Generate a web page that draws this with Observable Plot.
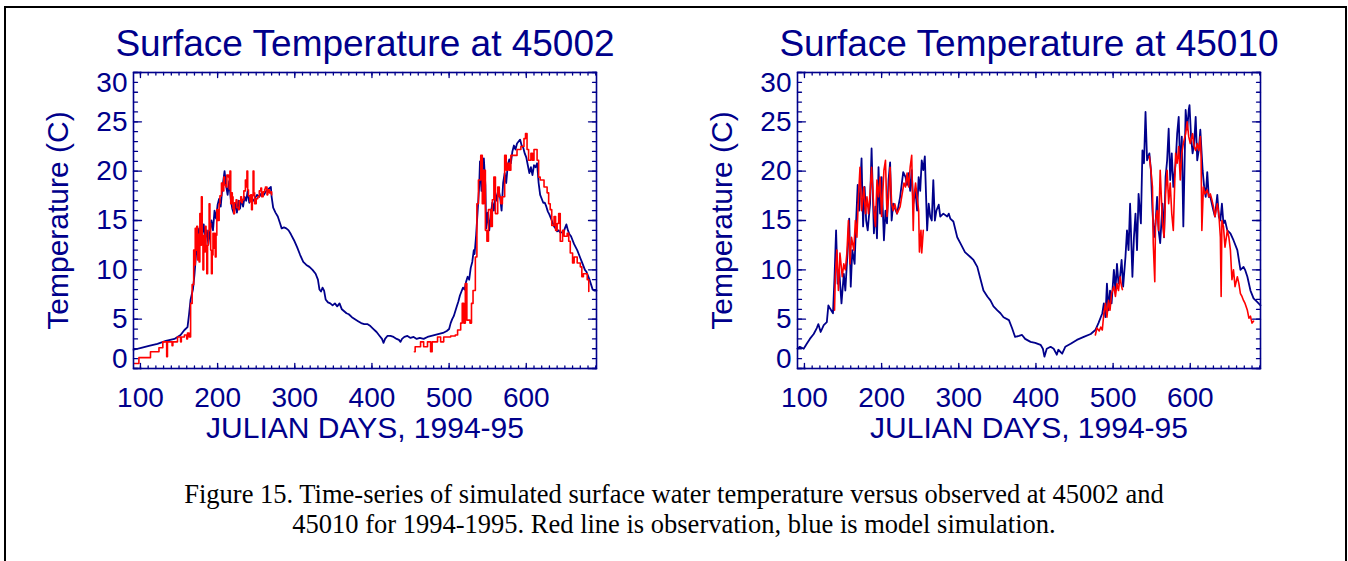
<!DOCTYPE html>
<html>
<head>
<meta charset="utf-8">
<script src="https://cdn.jsdelivr.net/npm/d3@7"></script>
<script src="https://cdn.jsdelivr.net/npm/@observablehq/plot@0.6"></script>
<style>
  html, body { margin: 0; padding: 0; background: #fff; }
  #page { position: relative; width: 1348px; height: 561px; overflow: hidden; background: #fff; }
  #border { position: absolute; left: 4px; top: 6px; width: 1343px; height: 600px; border: 2px solid #000; box-sizing: border-box; }
  .panel { position: absolute; top: 0; }
  #caption { position: absolute; left: 0; top: 479px; width: 1348px; text-align: center;
             font-family: "Liberation Serif", "Times New Roman", serif; font-size: 26.5px; line-height: 30px; color: #000; }
</style>
</head>
<body>
<div id="page">
  <div id="border"></div>
  <div id="left" class="panel" style="left:0px"></div>
  <div id="right" class="panel" style="left:665px"></div>
  <div id="caption">Figure 15. Time-series of simulated surface water temperature versus observed at 45002 and<br>45010 for 1994-1995. Red line is observation, blue is model simulation.</div>
</div>
<script>
// Axis ranges and tick values (Julian days 1994-95, temperature in C)
const dayDomain = [91, 691];
const tempDomain = [0, 30];
const dayMajor = [100, 200, 300, 400, 500, 600];
const dayMinor = d3.range(100, 691, 10);
const tempMajor = [0, 5, 10, 15, 20, 25, 30];
const tempMinor = d3.range(0, 31, 1);

// Station 45002 — model simulation
const model45002Day = [91,101,111,122,133,144,152,157,161,163,165,168,170,172,174,176,178,180,182,184,186,188,190,192,194,196,198,200,202,204,206,208,209,211,213,215,217,219,221,223,225,227,229,231,233,235,237,239,241,243,245,248,251,254,257,260,263,266,269,270,272,275,278,281,283,286,289,292,295,299,303,307,311,315,319,323,327,330,332,334,336,338,340,343,346,349,352,355,358,361,364,367,370,374,378,382,386,390,394,398,402,406,410,413,415,417,420,424,428,432,435,437,439,442,446,450,454,458,462,467,472,477,482,487,492,497,500,502,504,506,508,510,512,514,516,518,520,522,524,526,528,530,532,533,535,537,539,540,542,543,545,547,548,550,552,554,556,558,560,562,564,566,568,570,572,574,576,578,580,582,584,586,588,590,592,594,596,598,600,602,604,606,608,610,612,614,616,618,620,622,624,626,628,630,632,634,636,638,640,642,644,646,648,650,652,654,656,658,660,662,664,666,668,670,672,674,676,678,680,682,684,686,688,691];
const model45002Temp = [1.9,2.1,2.3,2.5,2.8,3.0,3.4,3.9,4.2,5.5,7.0,8.0,9.5,11.5,13.0,14.2,12.8,13.5,14.6,13.2,14.0,12.6,13.8,15.0,14.0,16.0,15.2,16.6,17.2,16.4,18.2,19.4,20.0,18.5,17.6,19.0,17.2,16.2,15.7,16.8,15.8,17.0,16.2,17.2,16.4,17.4,17.0,18.0,16.8,17.4,16.9,17.2,17.6,17.4,17.8,17.6,18.0,18.2,18.4,17.4,16.3,15.8,15.4,14.7,14.2,14.3,14.2,14.0,13.6,13.0,12.3,11.5,10.8,10.5,10.3,10.0,9.6,9.0,8.0,7.8,8.2,7.9,7.0,6.7,6.6,6.4,6.6,6.3,6.6,6.0,5.8,5.6,5.5,5.2,5.0,4.8,4.6,4.5,4.5,4.3,4.0,3.7,3.3,3.0,2.6,3.0,3.3,3.3,3.2,3.0,2.9,2.7,3.0,3.2,3.3,3.1,3.2,3.0,3.1,3.0,3.2,3.3,3.4,3.5,3.6,3.8,4.0,4.6,5.0,5.3,5.8,6.3,6.8,7.4,7.8,8.2,8.0,8.8,9.3,9.0,10.2,10.8,12.0,11.6,13.5,16.0,18.5,21.0,18.0,20.0,21.3,18.6,14.2,15.8,14.0,15.6,16.8,16.0,17.8,17.0,18.2,17.4,16.0,18.8,19.8,18.8,20.6,21.2,20.8,22.0,22.6,22.2,22.8,23.0,23.2,22.6,22.4,21.8,21.4,20.6,19.8,20.4,19.6,20.6,20.4,20.8,18.8,17.6,17.2,16.8,16.8,16.4,15.9,15.6,15.2,14.8,14.4,14.2,13.9,14.0,13.8,13.8,13.7,14.2,14.6,14.0,13.6,13.4,13.0,12.6,12.3,12.0,11.6,11.2,10.8,10.4,10.0,9.8,9.4,9.0,8.5,8.0,7.9,7.9];

// Station 45002 — buoy observation (null marks a data gap)
const obs45002Day = [92,98,113,124,129,134,135,141,142,148,152,153,157,160,161,163,165,167,169,170,171,172,173,174,175,176,177,178,179,180,181,182,183,184,185,186,187,188,189,190,191,192,193,194,195,196,197,198,199,200,202,203,205,207,208,209,211,212,214,215,216,217,218,219,220,221,222,224,225,227,228,230,231,232,234,236,237,238,239,240,242,243,244,245,246,247,248,250,252,254,256,257,259,261,262,264,265,267,269,270,
  272,
  455,456,463,467,472,476,478,485,489,493,502,508,511,515,517,519,521,523,527,529,531,534,536,538,541,543,545,547,549,551,554,556,558,560,563,565,567,569,572,574,576,578,580,584,588,593,597,599,601,603,606,608,610,614,616,618,623,627,629,631,633,636,638,640,642,644,647,649,653,655,657,660,662,666,670,672,674,679,681];
const obs45002Temp = [0.5,1.1,1.7,2.1,2.7,1.2,2.7,2.3,2.7,3.2,2.7,3.2,3.4,3.0,3.6,3.2,6.6,8.5,12.0,10.5,14.2,12.0,14.4,11.0,13.6,10.8,15.7,12.5,17.4,13.0,10.0,13.5,11.8,14.4,12.0,9.6,12.5,14.0,16.7,14.7,12.0,9.6,11.5,13.7,12.2,13.7,11.3,13.5,16.1,15.0,16.7,17.5,18.8,18.0,19.4,18.6,18.4,19.6,19.4,18.2,20.0,16.7,17.8,17.4,16.2,15.7,16.8,17.1,16.3,16.1,17.0,17.4,16.8,17.1,18.0,19.1,18.4,20.0,18.1,17.5,16.9,17.6,16.1,17.5,20.0,17.8,16.7,17.2,17.4,18.0,18.3,17.4,17.9,18.2,18.4,17.6,18.1,17.8,17.9,17.6,
  null,
  1.7,2.2,2.7,2.2,2.7,1.7,2.7,3.2,2.7,3.2,3.3,3.4,3.9,4.6,6.6,4.6,8.6,4.9,4.6,6.6,7.9,11.3,16.7,19.1,21.6,16.7,20.1,14.0,12.9,16.1,14.4,17.1,19.4,15.7,18.4,17.4,16.7,17.4,21.6,20.1,20.8,20.1,21.6,21.6,22.2,22.5,23.3,23.8,22.2,21.1,21.8,21.1,22.2,21.1,19.4,19.1,18.4,17.8,16.7,16.1,14.5,15.4,14.0,14.7,15.7,12.9,14.0,13.4,13.7,12.9,11.7,10.7,11.3,10.7,10.3,9.3,9.6,9.0,7.8];

// Station 45010 — model simulation
const model45010Day = [91,94,99,103,107,112,116,118,121,125,129,131,133,137,139,141,143,145,148,151,153,156,158,160,162,165,167,169,171,174,176,178,180,182,185,187,190,192,194,196,198,200,203,205,207,209,211,213,215,220,224,228,231,233,235,237,239,241,244,246,248,250,252,254,256,259,261,263,265,267,269,271,274,276,280,285,287,289,293,298,302,308,315,319,324,328,332,337,341,345,350,354,358,365,369,373,378,382,386,393,399,406,409,411,414,419,423,427,429,434,438,445,453,462,471,477,481,486,488,490,492,494,496,498,501,503,505,507,509,511,513,516,518,520,522,525,527,529,531,533,536,538,540,542,544,547,549,551,553,555,557,559,561,564,566,568,570,572,574,576,578,581,583,585,587,589,591,594,596,598,599,601,603,605,607,609,611,613,616,618,620,622,624,626,628,630,632,635,637,639,641,643,645,648,652,656,661,665,669,671,674,678,682,686,691];
const model45010Temp = [2.0,2.2,2.0,2.5,3.0,3.5,4.1,4.5,3.7,4.4,4.7,6.4,6.1,5.6,9.3,14.0,8.6,10.0,6.6,9.6,7.9,12.0,15.2,8.3,12.0,10.6,15.0,18.6,16.0,21.3,14.4,18.4,15.0,14.0,16.7,22.3,13.7,16.4,13.2,20.4,15.7,19.4,13.0,16.0,14.7,19.1,20.9,15.0,16.7,15.7,17.4,19.9,19.4,18.6,19.8,18.0,20.1,16.7,18.0,16.0,19.4,18.0,21.1,20.1,21.5,14.0,16.7,15.4,15.0,19.1,15.0,16.0,16.6,15.4,15.7,15.4,15.7,15.2,14.9,13.3,12.7,11.8,11.3,11.0,10.3,9.1,7.9,7.3,6.9,6.3,5.9,5.6,5.2,4.9,4.1,3.2,3.3,3.4,3.0,2.7,2.6,2.4,2.0,1.2,2.0,2.2,2.0,1.4,1.9,1.5,2.2,2.5,2.9,3.2,3.5,3.9,4.6,5.6,6.6,5.2,8.6,5.9,7.9,6.6,10.0,7.9,10.6,8.6,9.3,11.0,8.3,11.3,14.0,12.0,16.7,9.3,13.3,15.7,12.0,17.7,14.7,22.1,20.8,26.0,21.1,21.8,20.1,16.0,13.3,14.7,17.4,14.0,12.7,16.7,13.3,19.4,21.1,24.3,19.1,21.8,18.4,20.8,23.8,25.5,20.1,23.5,14.4,26.2,24.2,26.2,26.7,23.5,21.8,22.8,25.5,21.1,22.1,24.2,20.1,18.4,17.4,19.9,17.4,17.4,16.7,16.0,15.4,17.6,15.4,15.0,16.7,14.7,15.0,14.0,13.7,13.0,12.0,10.0,10.3,10.0,9.3,7.9,7.1,6.8,6.4];

// Station 45010 — buoy observation (null marks a data gap)
const obs45010Day = [139,140,142,144,146,149,151,153,155,157,159,161,164,166,168,170,172,174,177,179,181,183,185,187,190,192,194,196,198,200,203,205,207,209,211,213,215,217,220,224,226,229,231,233,235,237,239,241,242,244,246,248,249,251,252,254,
  300,
  477,479,482,484,486,488,490,492,494,496,498,501,503,505,507,509,511,512,
  530,
  547,549,551,552,554,555,557,559,561,564,566,568,570,572,574,576,578,581,583,585,587,589,591,594,596,598,600,603,605,607,609,611,613,614,615,617,619,622,624,626,628,630,632,635,637,639,640,641,643,645,648,650,652,654,656,658,661,663,665,667,669,671,674,676,678,680,682];
const obs45010Temp = [5.9,9.3,12.0,7.9,11.7,9.3,10.6,10.0,11.7,15.0,10.6,13.3,12.0,15.0,13.3,17.4,20.4,16.0,18.4,15.7,17.4,15.7,17.7,20.4,16.0,14.4,19.1,17.4,19.4,15.4,20.1,21.1,15.4,17.4,20.4,16.7,16.0,16.7,15.7,16.4,17.4,18.8,18.4,19.8,18.4,20.4,21.6,14.0,17.4,18.8,17.4,16.0,11.8,14.0,11.7,14.0,
  null,
  3.4,4.1,3.8,4.2,3.9,5.6,6.6,5.2,6.9,5.9,7.6,8.3,7.3,8.6,7.9,9.3,8.3,8.0,
  null,
  21.5,20.1,18.4,12.7,8.8,15.0,16.0,14.0,20.1,14.7,13.3,17.7,20.1,16.7,18.8,15.7,14.0,21.8,20.8,22.5,19.1,21.8,22.8,23.8,25.0,23.5,22.8,23.8,22.5,22.1,22.8,22.1,23.5,21.5,14.0,18.4,17.7,18.1,17.4,17.7,17.1,16.4,15.4,16.7,15.7,13.3,7.3,15.0,14.4,12.3,14.0,13.3,12.0,9.0,10.0,8.3,9.3,8.6,7.6,7.3,6.9,6.6,5.9,5.1,5.3,4.6,4.8];

const navy = "#00008b";
const red = "#ff0000";
const sans = "'Liberation Sans', Arial, Helvetica, sans-serif";

const rows = (days, temps) => days.map((d, i) => ({day: d, temp: temps[i] == null ? NaN : temps[i]}));

// Inward-pointing tick: a plain stroke from the anchor, rotated by the vector's angle
const tickShape = {draw(context, l) { context.moveTo(0, 0); context.lineTo(0, -l); }};

function tickMarks() {
  const common = {anchor: "start", shape: tickShape, stroke: navy, strokeWidth: 1.3};
  return [
    Plot.vectorX(dayMinor, {...common, frameAnchor: "bottom", length: 2.5, rotate: 0}),
    Plot.vectorX(dayMajor, {...common, frameAnchor: "bottom", length: 5, rotate: 0}),
    Plot.vectorX(dayMinor, {...common, frameAnchor: "top", length: 2.5, rotate: 180}),
    Plot.vectorX(dayMajor, {...common, frameAnchor: "top", length: 5, rotate: 180}),
    Plot.vectorY(tempMinor, {...common, frameAnchor: "left", length: 4, rotate: 90}),
    Plot.vectorY(tempMajor, {...common, frameAnchor: "left", length: 8, rotate: 90}),
    Plot.vectorY(tempMinor, {...common, frameAnchor: "right", length: 4, rotate: -90}),
    Plot.vectorY(tempMajor, {...common, frameAnchor: "right", length: 8, rotate: -90})
  ];
}

function tickLabels() {
  const t = {fill: navy, fontSize: 28, fontFamily: sans, text: (d) => String(d)};
  const inner = tempMajor.filter((v) => v > tempDomain[0] && v < tempDomain[1]);
  return [
    Plot.text(dayMajor, {...t, x: (d) => d, frameAnchor: "bottom", textAnchor: "middle", lineAnchor: "middle", dy: 29.5}),
    Plot.text(inner, {...t, y: (d) => d, frameAnchor: "left", textAnchor: "end", lineAnchor: "middle", dx: -6}),
    // end labels are kept inside the axis extent
    Plot.text([tempDomain[1]], {...t, y: (d) => d, frameAnchor: "left", textAnchor: "end", lineAnchor: "top", dx: -6}),
    Plot.text([tempDomain[0]], {...t, y: (d) => d, frameAnchor: "left", textAnchor: "end", lineAnchor: "middle", dx: -6, dy: -9})
  ];
}

function panel({title, model, obs, obsCurve, marginLeft, marginRight}) {
  return Plot.plot({
    width: 640,
    height: 450,
    marginTop: 72,
    marginBottom: 82,
    marginLeft,
    marginRight,
    x: {domain: dayDomain, axis: null},
    y: {domain: tempDomain, axis: null},
    style: {background: "transparent", fontFamily: sans, overflow: "visible"},
    marks: [
      Plot.line(model, {x: "day", y: "temp", stroke: navy, strokeWidth: 1.8}),
      Plot.line(obs, {x: "day", y: "temp", stroke: red, strokeWidth: 1.6, curve: obsCurve}),
      Plot.frame({stroke: navy, strokeWidth: 1.6}),
      ...tickMarks(),
      ...tickLabels(),
      Plot.text([title], {text: (d) => d, frameAnchor: "top", textAnchor: "middle", lineAnchor: "middle", dy: -28, fontSize: 37, fill: navy, fontFamily: sans}),
      Plot.text(["JULIAN DAYS, 1994-95"], {text: (d) => d, frameAnchor: "bottom", textAnchor: "middle", lineAnchor: "middle", dy: 60, fontSize: 30, fill: navy, fontFamily: sans}),
      Plot.text(["Temperature (C)"], {text: (d) => d, frameAnchor: "left", textAnchor: "middle", rotate: -90, lineAnchor: "middle", dx: -75, fontSize: 30, fill: navy, fontFamily: sans})
    ]
  });
}

document.getElementById("left").append(panel({
  title: "Surface Temperature at 45002",
  model: rows(model45002Day, model45002Temp),
  obs: rows(obs45002Day, obs45002Temp),
  obsCurve: "step-after",
  marginLeft: 133,
  marginRight: 44
}));

document.getElementById("right").append(panel({
  title: "Surface Temperature at 45010",
  model: rows(model45010Day, model45010Temp),
  obs: rows(obs45010Day, obs45010Temp),
  obsCurve: "linear",
  marginLeft: 132,
  marginRight: 45
}));
</script>
</body>
</html>
